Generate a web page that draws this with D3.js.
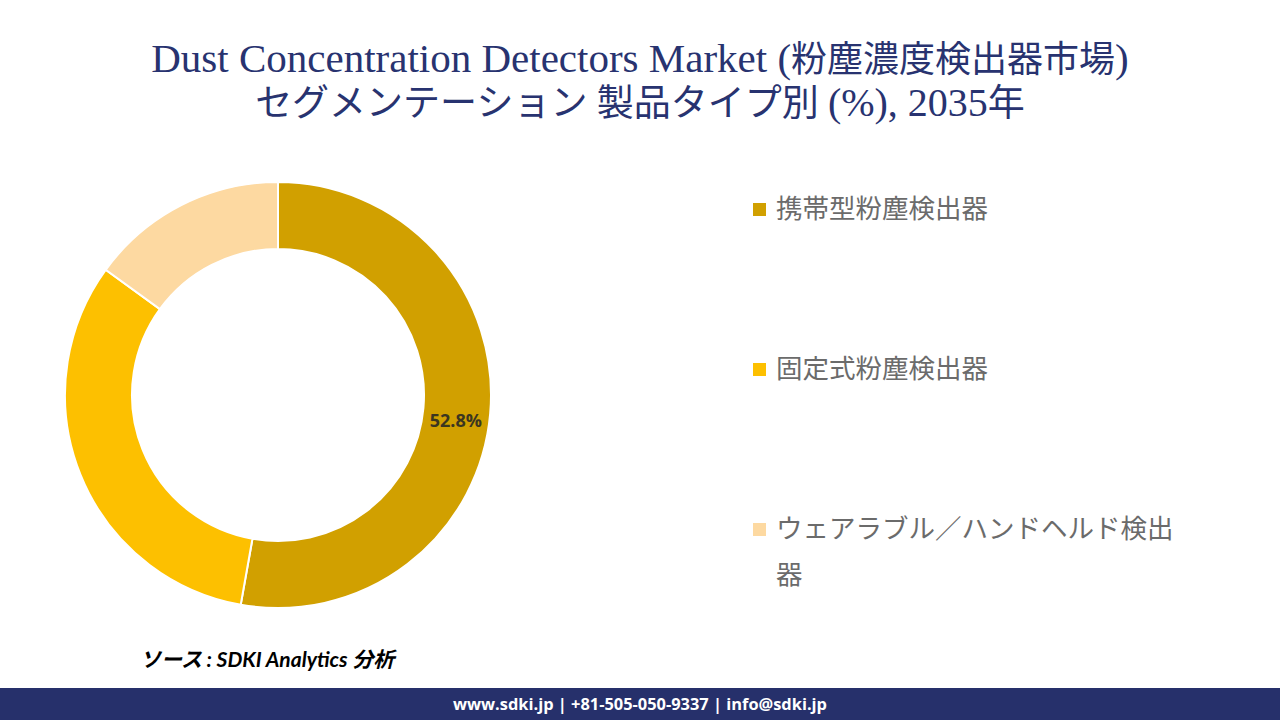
<!DOCTYPE html>
<html><head><meta charset="utf-8">
<script src="https://cdn.jsdelivr.net/npm/d3@7"></script>
<style>body{margin:0;background:#fff}svg{display:block}</style>
</head><body>
<svg id="c" width="1280" height="720"></svg>
<script>
const categories = ["携帯型粉塵検出器", "固定式粉塵検出器", "ウェアラブル／ハンドヘルド検出器"];
const values = [52.8, 32.2, 15.0];
const colors = ["#D1A000", "#FDC000", "#FDD9A1"];
const labelShown = [true, false, false];

const svg = d3.select("#c");
const titleFont = "'Liberation Serif','DejaVu Serif','Noto Sans CJK JP',serif";
const t1 = svg.append("text").attr("x", 640).attr("y", 72).attr("text-anchor", "middle")
  .attr("font-family", titleFont).attr("font-size", 36).attr("fill", "#283370");
t1.append("tspan").attr("font-size", 41).text("Dust Concentration Detectors Market (");
t1.append("tspan").text("粉塵濃度検出器市場");
t1.append("tspan").attr("font-size", 41).text(")");
const t2 = svg.append("text").attr("x", 640).attr("y", 116).attr("text-anchor", "middle")
  .attr("font-family", titleFont).attr("font-size", 37).attr("fill", "#283370");
t2.append("tspan").text("セグメンテーション 製品タイプ別 ");
t2.append("tspan").attr("font-size", 40).text("(%), 2035");
t2.append("tspan").text("年");

const cx = 278, cy = 395, rOut = 213, rIn = 146;
const pie = d3.pie().sort(null).value(d => d)(values);
const arc = d3.arc().innerRadius(rIn).outerRadius(rOut);
const g = svg.append("g").attr("transform", `translate(${cx},${cy})`);
g.selectAll("path").data(pie).join("path")
  .attr("d", arc).attr("fill", (d, i) => colors[i])
  .attr("stroke", "#fff").attr("stroke-width", 2);
const lab = d3.arc().innerRadius((rIn + rOut) / 2).outerRadius((rIn + rOut) / 2);
g.selectAll("text.v").data(pie.filter((d, i) => labelShown[i])).join("text")
  .attr("class", "v")
  .attr("transform", d => { const c = lab.centroid(d); return `translate(${c[0] - 1},${c[1] + 10})`; })
  .attr("text-anchor", "middle").attr("dy", "0.35em")
  .attr("font-family", "'Open Sans','Noto Sans',sans-serif").attr("font-weight", "bold")
  .attr("font-size", 18).attr("fill", "#3b3620")
  .text(d => d.value.toFixed(1) + "%");

const legY = [209, 369, 529];
const lg = svg.append("g");
categories.forEach((c, i) => {
  lg.append("rect").attr("x", 753).attr("y", legY[i] - 6).attr("width", 13).attr("height", 13).attr("fill", colors[i]);
  const t = lg.append("text").attr("x", 776).attr("y", legY[i] + 9)
    .attr("font-family", "'Noto Sans CJK JP',sans-serif").attr("font-size", 26.5).attr("fill", "#6b6b6b");
  if (c.length > 15) {
    t.append("tspan").attr("x", 776).text(c.slice(0, 15));
    t.append("tspan").attr("x", 776).attr("dy", 46).text(c.slice(15));
  } else t.text(c);
});

svg.append("text").attr("x", 140).attr("y", 667)
  .attr("font-family", "Lato,'Noto Sans CJK JP',sans-serif").attr("font-style", "italic").attr("font-weight", "bold")
  .attr("font-size", 21).attr("fill", "#000").text("ソース : SDKI Analytics 分析");

svg.append("rect").attr("x", 0).attr("y", 688).attr("width", 1280).attr("height", 32).attr("fill", "#26306b");
svg.append("text").attr("x", 640).attr("y", 710).attr("text-anchor", "middle")
  .attr("font-family", "'Open Sans','Noto Sans',sans-serif").attr("font-weight", "bold")
  .attr("font-size", 16.4).attr("fill", "#fff").text("www.sdki.jp | +81-505-050-9337 | info@sdki.jp");
</script>
</body></html>
